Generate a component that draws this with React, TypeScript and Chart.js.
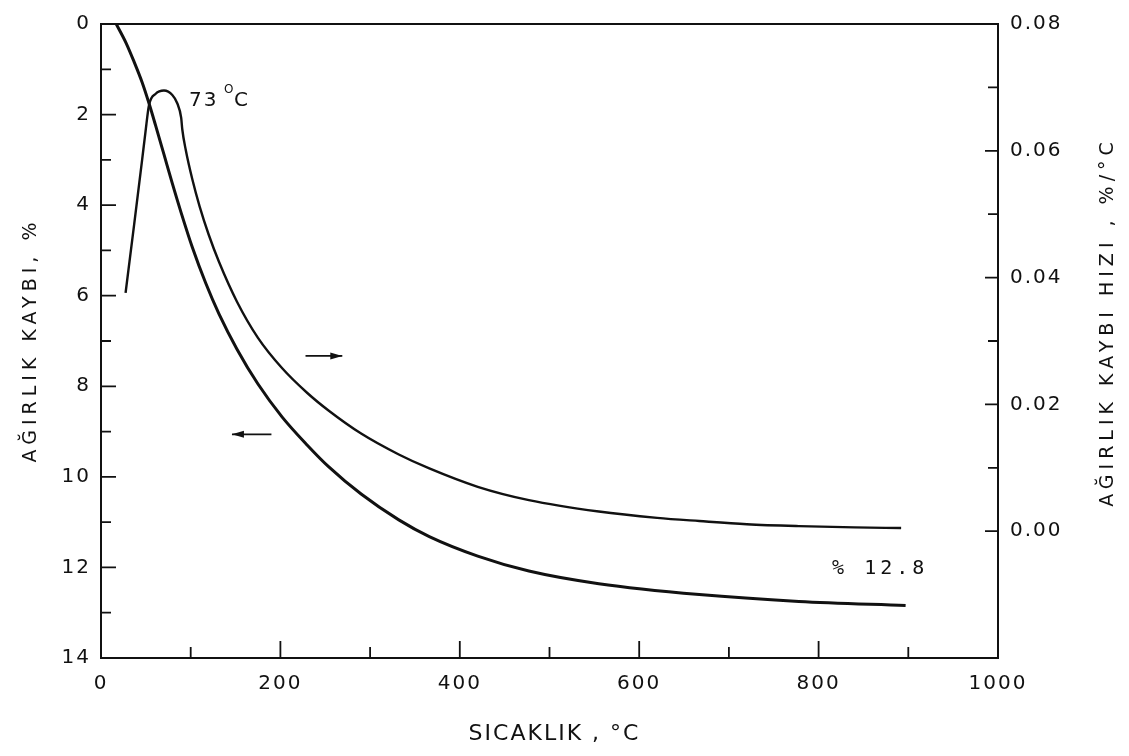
import React, { useEffect, useRef } from 'react';
import { Chart, registerables } from 'chart.js';

Chart.register(...registerables);

// Temperature (°C) vs weight loss (%) – left axis (reversed)
const weightTemps = [17, 28, 36.8, 45.7, 53.5, 61, 70.2, 79.5, 89.4, 101.8, 116.7, 131.5, 151.6, 175, 202, 230, 254, 290, 332, 366, 420, 477, 555, 667, 778, 897];
const weightLoss = [0, 0.42, 0.83, 1.28, 1.75, 2.25, 2.88, 3.52, 4.17, 4.93, 5.72, 6.4, 7.18, 7.95, 8.68, 9.3, 9.78, 10.38, 10.95, 11.32, 11.75, 12.08, 12.36, 12.6, 12.75, 12.84];

// Temperature (°C) vs weight-loss rate (%/°C) – right axis
const rateTemps = [27.4, 36.8, 45.7, 49.6, 53.5, 61, 70.2, 79.5, 85, 89.4, 90.6, 94.4, 101.8, 110, 120, 131.5, 151.6, 175, 202, 230, 254, 290, 332, 366, 420, 477, 555, 620, 667, 720, 778, 840, 892];
const rateValues = [0.0376, 0.0482, 0.0584, 0.063, 0.0672, 0.069, 0.0695, 0.0688, 0.0675, 0.0652, 0.0634, 0.0602, 0.0555, 0.0512, 0.0468, 0.0425, 0.0362, 0.0305, 0.0257, 0.0218, 0.019, 0.0154, 0.0121, 0.0099, 0.007, 0.0049, 0.0031, 0.0021, 0.0016, 0.0011, 0.0008, 0.0006, 0.0005];

// Axis ticks
const xMinorTicks = [100, 200, 300, 400, 500, 600, 700, 800, 900];
const leftTicks = [1, 2, 3, 4, 5, 6, 7, 8, 9, 10, 11, 12, 13];
const rightTicks = [0, 0.01, 0.02, 0.03, 0.04, 0.05, 0.06, 0.07];

// Texts
const xTitle = 'SICAKLIK , °C';
const leftTitle = 'AĞIRLIK KAYBI, %';
const rightTitle = 'AĞIRLIK KAYBI HIZI , %/°C';
const peakLabel = '73';
const finalLabel = '% 12.8';

const INK = '#111';
const FONT = 'DejaVu Sans';

const overlay = {
  id: 'overlay',
  beforeDraw(chart: any) {
    (chart.ctx as any).letterSpacing = '2px';
  },
  afterDraw(chart: any) {
    const { ctx, chartArea: a, scales } = chart;
    const x = scales.x;
    const yW = scales.yW;
    const yR = scales.yR;
    ctx.save();
    ctx.strokeStyle = INK;
    ctx.fillStyle = INK;
    ctx.lineWidth = 2;
    ctx.strokeRect(a.left, a.top, a.right - a.left, a.bottom - a.top);

    // inward ticks
    ctx.lineWidth = 1.8;
    ctx.beginPath();
    leftTicks.forEach((v) => {
      const py = yW.getPixelForValue(v);
      const len = v % 2 === 0 ? 15 : 10;
      ctx.moveTo(a.left, py);
      ctx.lineTo(a.left + len, py);
    });
    rightTicks.forEach((v, i) => {
      const py = yR.getPixelForValue(v);
      const len = i % 2 === 0 ? 13 : 10;
      ctx.moveTo(a.right, py);
      ctx.lineTo(a.right - len, py);
    });
    xMinorTicks.forEach((v) => {
      const px = x.getPixelForValue(v);
      const len = v % 200 === 0 ? 17 : 11;
      ctx.moveTo(px, a.bottom);
      ctx.lineTo(px, a.bottom - len);
    });
    ctx.stroke();

    // arrows
    const arrow = (x1: number, x2: number, yv: number) => {
      const p1 = x.getPixelForValue(x1);
      const p2 = x.getPixelForValue(x2);
      const py = yW.getPixelForValue(yv);
      ctx.lineWidth = 1.8;
      ctx.beginPath();
      ctx.moveTo(p1, py);
      ctx.lineTo(p2, py);
      ctx.stroke();
      const dir = p2 > p1 ? 1 : -1;
      ctx.beginPath();
      ctx.moveTo(p2, py);
      ctx.lineTo(p2 - dir * 12, py - 3.5);
      ctx.lineTo(p2 - dir * 12, py + 3.5);
      ctx.closePath();
      ctx.fill();
    };
    arrow(228, 269, 7.33);
    arrow(190, 146, 9.06);

    // annotations
    ctx.textBaseline = 'alphabetic';
    ctx.textAlign = 'left';
    const ax = x.getPixelForValue(98);
    const ay = yW.getPixelForValue(1.8);
    (ctx as any).letterSpacing = '2px';
    ctx.font = `20px ${FONT}`;
    ctx.fillText(peakLabel, ax, ay);
    (ctx as any).letterSpacing = '0px';
    ctx.font = `12px ${FONT}`;
    ctx.fillText('O', ax + 35, ay - 13);
    ctx.font = `20px ${FONT}`;
    ctx.fillText('C', ax + 45, ay);

    (ctx as any).letterSpacing = '4px';
    ctx.font = `20px DejaVu Sans Mono`;
    ctx.fillText(finalLabel, x.getPixelForValue(815), yW.getPixelForValue(12.15));

    // axis titles
    ctx.textAlign = 'center';
    ctx.textBaseline = 'middle';
    (ctx as any).letterSpacing = '2px';
    ctx.font = `22px ${FONT}`;
    ctx.fillText(xTitle, (a.left + a.right) / 2 + 5, 734);

    (ctx as any).letterSpacing = '5px';
    ctx.font = `19px ${FONT}`;
    ctx.save();
    ctx.translate(31, 340);
    ctx.rotate(-Math.PI / 2);
    ctx.fillText(leftTitle, 0, 0);
    ctx.restore();

    ctx.save();
    ctx.translate(1108, 322);
    ctx.rotate(-Math.PI / 2);
    ctx.fillText(rightTitle, 0, 0);
    ctx.restore();

    ctx.restore();
    (ctx as any).letterSpacing = '0px';
  },
};

export default function App() {
  const ref = useRef<HTMLCanvasElement>(null);
  useEffect(() => {
    const canvas = ref.current;
    if (!canvas) return;
    const tickFont = { family: FONT, size: 20 };
    const chart = new Chart(canvas, {
      type: 'line',
      data: {
        datasets: [
          {
            label: 'Ağırlık kaybı',
            data: weightTemps.map((t, i) => ({ x: t, y: weightLoss[i] })),
            yAxisID: 'yW',
            borderColor: INK,
            borderWidth: 3,
            pointRadius: 0,
            cubicInterpolationMode: 'monotone',
            fill: false,
          },
          {
            label: 'Ağırlık kaybı hızı',
            data: rateTemps.map((t, i) => ({ x: t, y: rateValues[i] })),
            yAxisID: 'yR',
            borderColor: INK,
            borderWidth: 2.4,
            pointRadius: 0,
            cubicInterpolationMode: 'monotone',
            fill: false,
          },
        ],
      },
      options: {
        responsive: false,
        animation: false,
        layout: { padding: { top: 18, left: 0, right: 0, bottom: 0 } },
        plugins: { legend: { display: false }, tooltip: { enabled: false } },
        scales: {
          x: {
            type: 'linear',
            position: 'bottom',
            min: 0,
            max: 1000,
            grid: { display: false, drawTicks: false },
            border: { display: false },
            ticks: {
              stepSize: 200,
              padding: 14,
              color: INK,
              font: tickFont,
              maxRotation: 0,
              callback: (v: any) => String(Math.round(Number(v))),
            },
            afterFit: (s: any) => {
              s.height = 98;
            },
          },
          yW: {
            type: 'linear',
            position: 'left',
            reverse: true,
            min: 0,
            max: 14,
            grid: { display: false, drawTicks: false },
            border: { display: false },
            ticks: { stepSize: 2, padding: 10, color: INK, font: tickFont, callback: (v: any) => String(v) },
            afterFit: (s: any) => {
              s.width = 101;
            },
          },
          yR: {
            type: 'linear',
            position: 'right',
            min: -0.02,
            max: 0.08,
            grid: { display: false, drawTicks: false },
            border: { display: false },
            ticks: {
              stepSize: 0.02,
              padding: 12,
              color: INK,
              font: tickFont,
              callback: (v: any) => (Number(v) < -1e-9 ? '' : Number(v).toFixed(2)),
            },
            afterFit: (s: any) => {
              s.width = 131;
            },
          },
        },
      },
      plugins: [overlay],
    } as any);
    return () => chart.destroy();
  }, []);
  return (
    <div style={{ position: 'absolute', left: 0, top: 0, width: 1129, height: 756, background: '#fff' }}>
      <canvas ref={ref} width={1129} height={756} style={{ display: 'block' }} />
    </div>
  );
}
